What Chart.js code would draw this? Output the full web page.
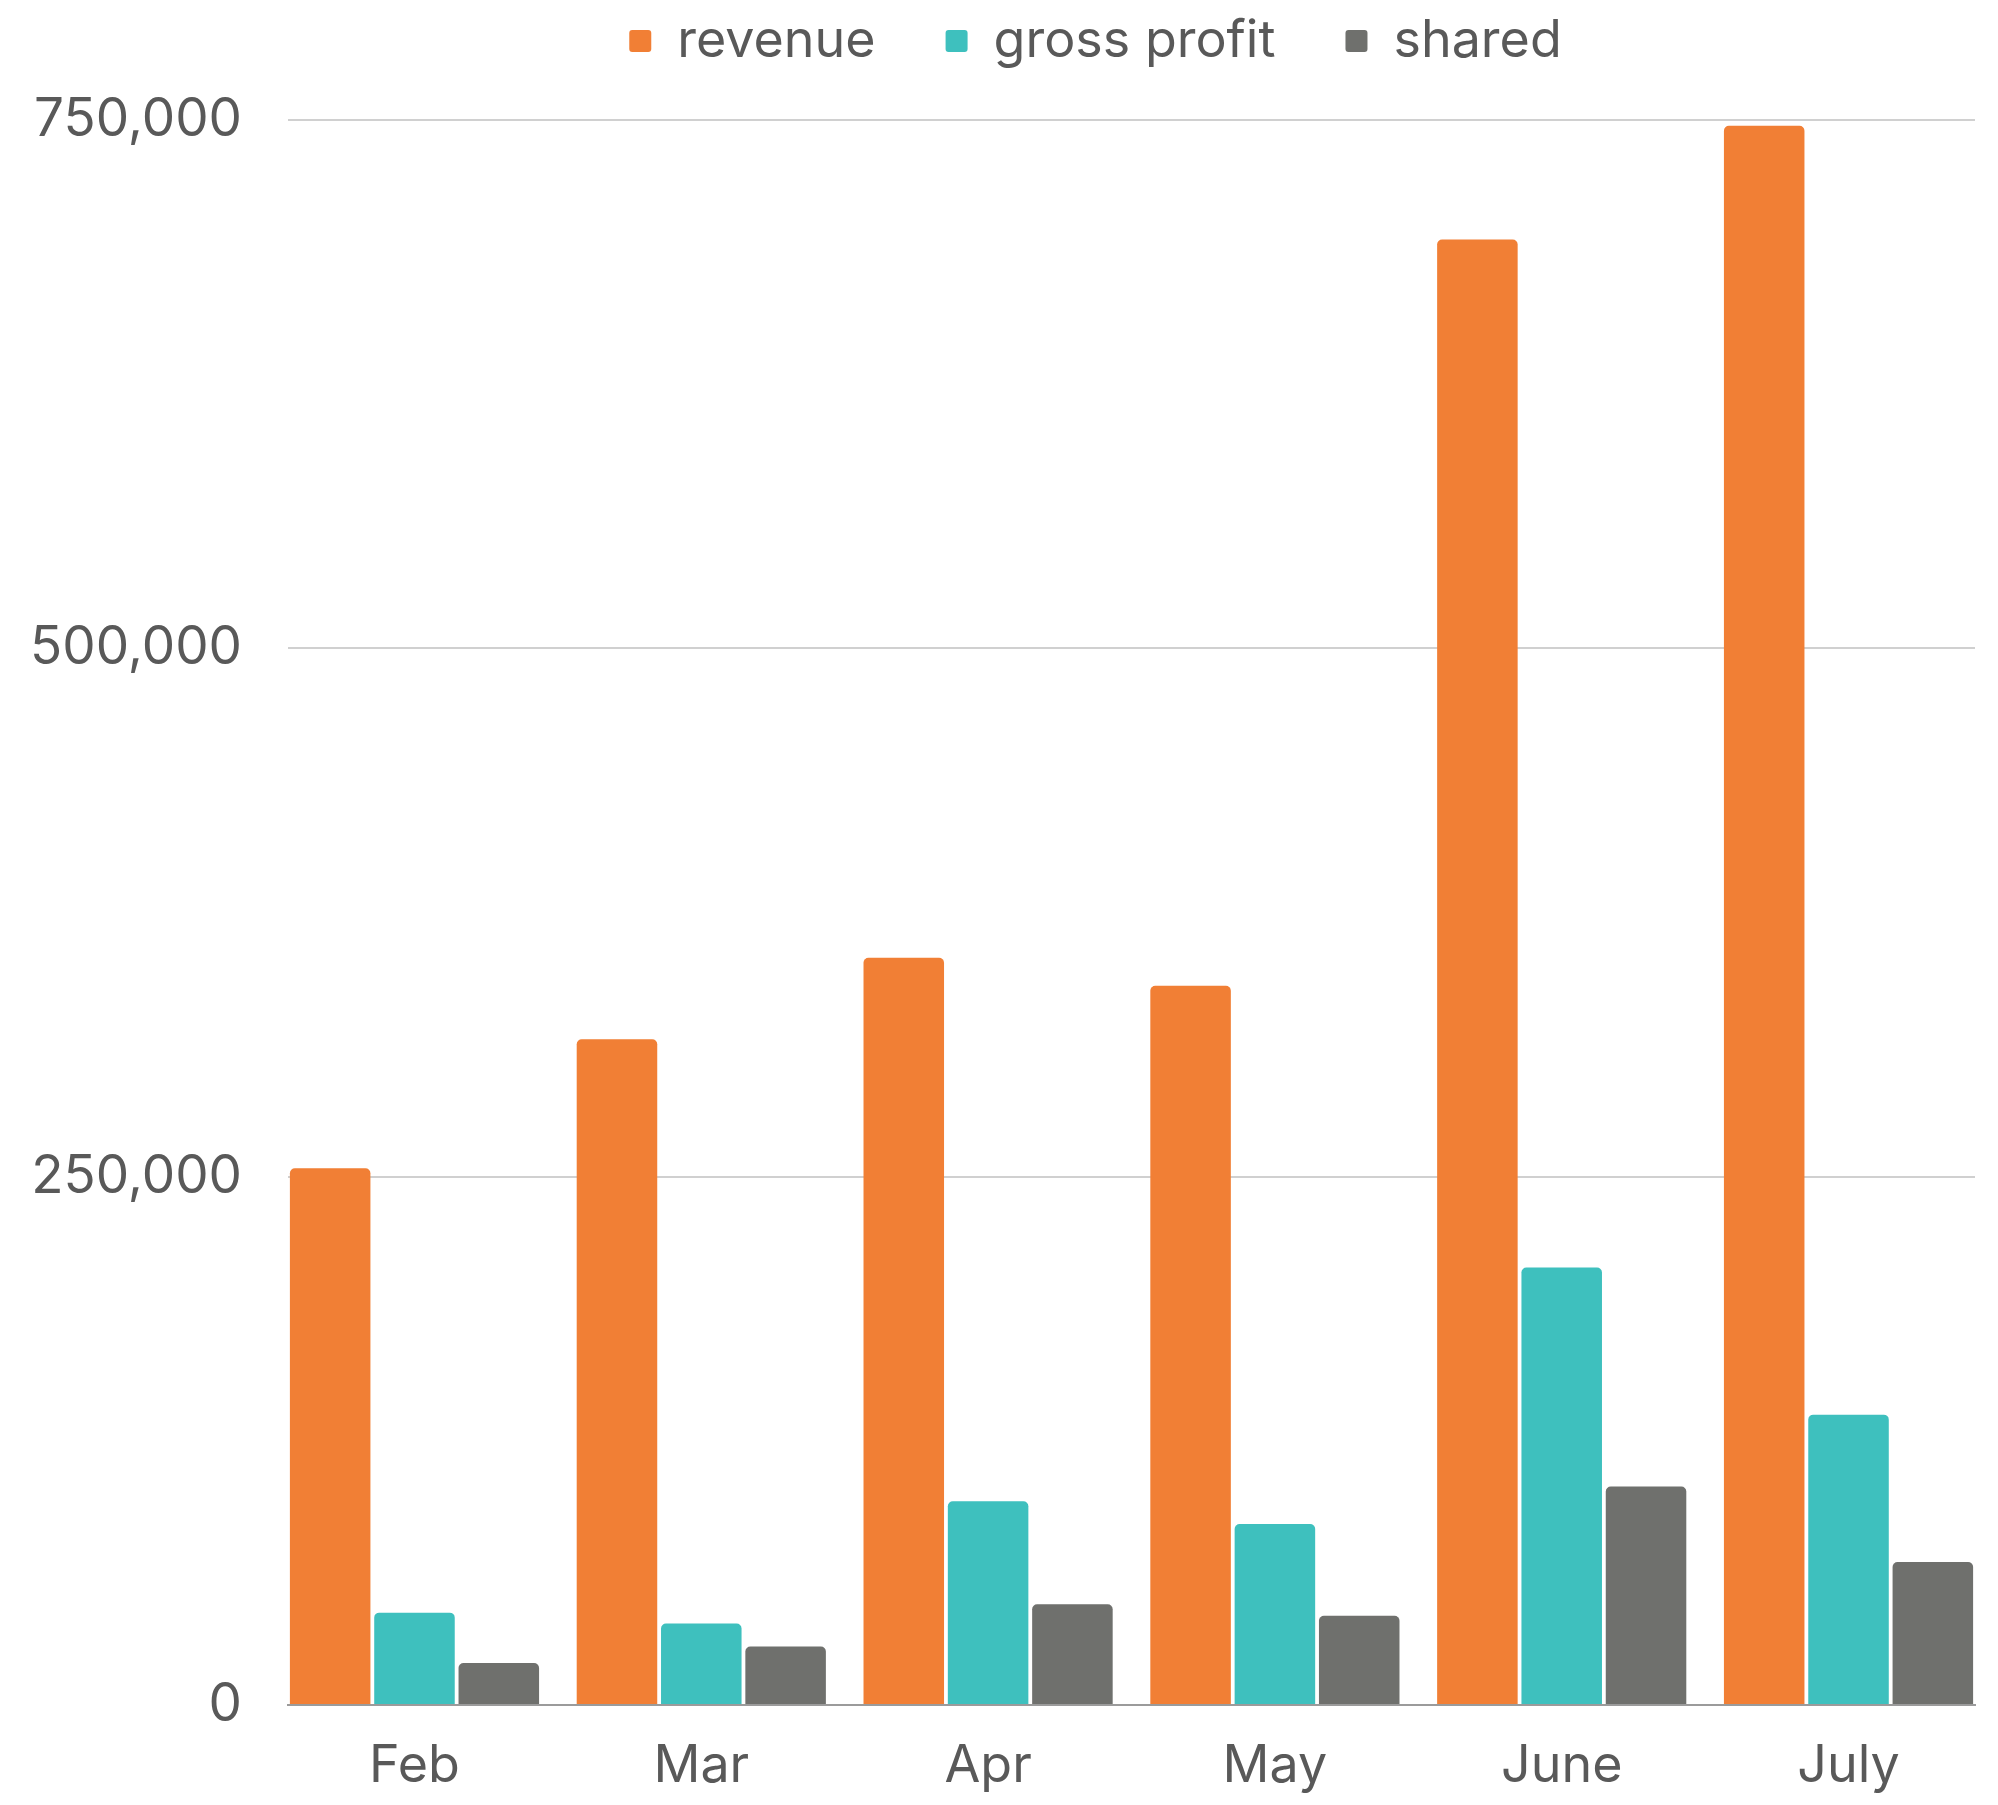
<!DOCTYPE html>
<html>
<head>
<meta charset="utf-8">
<script src="https://cdn.jsdelivr.net/npm/chart.js@4.4.1/dist/chart.umd.min.js"></script>
<style>
html,body{margin:0;padding:0;background:#ffffff;}
#wrap{width:1998px;height:1805px;}
</style>
</head>
<body>
<div id="wrap"><canvas id="c" width="1998" height="1805"></canvas></div>
<script>
const categories = ['Feb', 'Mar', 'Apr', 'May', 'June', 'July'];
const seriesNames = ['revenue', 'gross profit', 'shared'];
const revenue = [254000, 315000, 353600, 340300, 693400, 747300];
const grossProfit = [43700, 38600, 96400, 85600, 207000, 137400];
const shared = [19900, 27700, 47700, 42200, 103400, 67700];
const yTicks = [0, 250000, 500000, 750000];

const FONT = 'Inter, "Open Sans", sans-serif';
const TEXT = '#595959';
const toPoints = arr => arr.map((v, i) => ({ x: i, y: v }));

const legendShift = {
  id: 'legendShift',
  afterInit(chart) {
    const lg = chart.legend;
    if (!lg) return;
    const fit = lg.fit;
    lg.fit = function () { fit.call(this); this.height = 120; };
    const draw = lg.draw;
    lg.draw = function () {
      const l = this.left, r = this.right, t = this.top;
      this.left = l + 108; this.right = r + 108; this.top = t - 55;
      draw.call(this);
      this.left = l; this.right = r; this.top = t;
    };
  }
};

new Chart(document.getElementById('c'), {
  type: 'bar',
  data: {
    datasets: [
      { label: seriesNames[0], data: toPoints(revenue), backgroundColor: '#F17F35' },
      { label: seriesNames[1], data: toPoints(grossProfit), backgroundColor: '#3EC0BE' },
      { label: seriesNames[2], data: toPoints(shared), backgroundColor: '#6F706D' }
    ]
  },
  plugins: [legendShift],
  options: {
    responsive: false,
    animation: false,
    devicePixelRatio: 1,
    layout: { padding: { left: 0, right: 23, top: 0, bottom: 0 } },
    datasets: {
      bar: { categoryPercentage: 0.882, barPercentage: 0.955, borderRadius: 5, borderSkipped: 'start' }
    },
    plugins: {
      tooltip: { enabled: false },
      legend: {
        position: 'top',
        align: 'center',
        labels: {
          boxWidth: 22,
          boxHeight: 22,
          useBorderRadius: true,
          borderRadius: 3,
          padding: 70,
          color: TEXT,
          font: { family: FONT, size: 52 }
        }
      }
    },
    scales: {
      x: {
        type: 'linear',
        bounds: 'data',
        offset: false,
        min: -0.441,
        max: categories.length - 1 + 0.441,
        grid: { display: false, drawTicks: false, offset: false },
        border: { display: true, color: '#9b9b9b', width: 2 },
        afterBuildTicks: s => { s.ticks = categories.map((_, i) => ({ value: i })); },
        ticks: {
          autoSkip: false,
          maxRotation: 0,
          minRotation: 0,
          padding: 30,
          color: TEXT,
          font: { family: FONT, size: 52 },
          callback: v => categories[Math.round(v)] ?? ''
        },
        afterFit: s => { s.height = 100; s.paddingLeft = 0; s.paddingRight = 0; }
      },
      y: {
        min: yTicks[0],
        max: yTicks[yTicks.length - 1],
        grid: { color: '#d0d0d0', lineWidth: 2, drawTicks: false },
        border: { display: false },
        afterBuildTicks: s => { s.ticks = yTicks.map(v => ({ value: v })); },
        ticks: {
          padding: 46,
          color: TEXT,
          font: { family: FONT, size: 53 },
          callback: v => v.toLocaleString('en-US')
        },
        afterFit: s => { s.width = 288; }
      }
    }
  }
});
</script>
</body>
</html>
